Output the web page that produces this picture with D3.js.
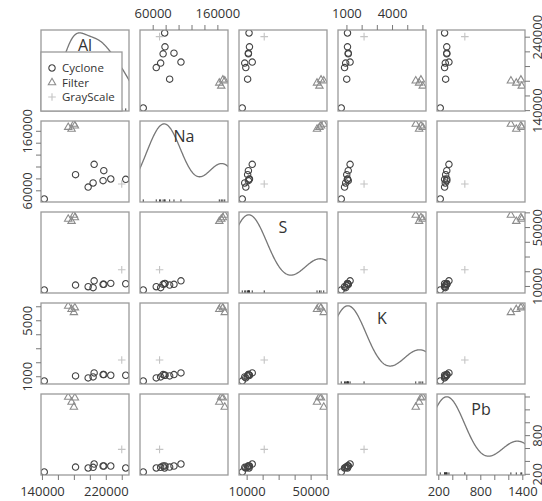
<!DOCTYPE html>
<html>
<head>
  <title>Scatterplot matrix</title>
  <style type="text/css">
    body { margin: 0; background: #fff; }
    svg text { font-family: 'Open Sans', sans-serif; fill: #333; }
    .panel-box { fill: none; stroke: #9a9a9a; stroke-width: 1.3px; }
    .axis line { stroke: #777; }
    .axis text { font-size: 13px; font-family: 'Open Sans', sans-serif; fill: #333; }
    .dens { fill: none; stroke: #777; stroke-width: 1.3px; }
    .rug { stroke: #333; stroke-width: 1px; }
    .diag-label { font-size: 16px; text-anchor: middle; }
    .legend-box { fill: #fff; stroke: #9a9a9a; stroke-width: 1.3px; }
    .legend text { font-size: 11.5px; }
  </style>
</head>
<body>
  <div id="splom"></div>

  <script type="text/javascript" src="https://cdnjs.cloudflare.com/ajax/libs/d3/7.8.5/d3.min.js"></script>
  <script type="text/javascript">
  var varNames = ['Al', 'Na', 'S', 'K', 'Pb'];
  var groupNames = ['Cyclone', 'Filter', 'GrayScale'];

  // one entry per sample
  var sampleGroup = ['Cyclone', 'Cyclone', 'Cyclone', 'Cyclone', 'Cyclone', 'Cyclone', 'Cyclone', 'Cyclone', 'Cyclone',
                     'Filter', 'Filter', 'Filter', 'Filter', 'GrayScale'];
  var al = [142900, 182100, 205400, 217500, 197900, 204100, 216600, 226250, 245000,
            172900, 180000, 177100, 181250, 240000];
  var na = [45400, 86200, 103700, 92900, 65500, 72300, 76100, 79000, 78500,
            166000, 171400, 163000, 168500, 70600];
  var s  = [7260, 10620, 13500, 11090, 9480, 8810, 11090, 11760, 11500,
            55500, 58200, 54000, 56500, 21000];
  var k  = [660, 1020, 1240, 1120, 877, 950, 1120, 1070, 1070,
            6020, 5560, 5780, 5900, 2160];
  var pb = [228, 305, 352, 321, 290, 300, 321, 321, 290,
            1392, 1237, 1314, 1380, 579];

  // tick marks and the ones that carry a label
  var alTicks = [140000, 160000, 180000, 200000, 220000, 240000];
  var naTicks = [60000, 80000, 100000, 120000, 140000, 160000];
  var sTicks  = [10000, 20000, 30000, 40000, 50000, 60000];
  var kTicks  = [1000, 2000, 3000, 4000, 5000, 6000];
  var pbTicks = [200, 400, 600, 800, 1000, 1200, 1400];

  var naTopLabels = [60000, 160000];
  var kTopLabels = [1000, 4000];
  var alBottomLabels = [140000, 220000];
  var sBottomLabels = [10000, 50000];
  var pbBottomLabels = [200, 800, 1400];
  var naLeftLabels = [60000, 160000];
  var kLeftLabels = [1000, 5000];
  var alRightLabels = [140000, 240000];
  var sRightLabels = [10000, 50000];
  var pbRightLabels = [200, 800];

  var cfg = {
    w: 542, h: 501,
    left: 41, top: 30,
    pw: 88, ph: 81,
    gx: 11, gy: 10
  };

  var values = { Al: al, Na: na, S: s, K: k, Pb: pb };
  var ticks = { Al: alTicks, Na: naTicks, S: sTicks, K: kTicks, Pb: pbTicks };

  var colLeft = function(i) { return cfg.left + i * (cfg.pw + cfg.gx) };
  var rowTop = function(i) { return cfg.top + i * (cfg.ph + cfg.gy) };

  var svg = d3.select('#splom').append('svg')
    .attr('width', cfg.w)
    .attr('height', cfg.h);

  // R-like scales: data range stretched by 4% on each side
  var xSc = {}, ySc = {};
  varNames.forEach(function(v, i) {
    var ext = d3.extent(values[v]);
    var pad = (ext[1] - ext[0]) * 0.04;
    xSc[v] = d3.scaleLinear().domain([ext[0] - pad, ext[1] + pad])
      .range([colLeft(i), colLeft(i) + cfg.pw]);
    ySc[v] = d3.scaleLinear().domain([ext[0] - pad, ext[1] + pad])
      .range([rowTop(i) + cfg.ph, rowTop(i)]);
  });

  var groupStyle = {
    Cyclone:   { color: '#444' },
    Filter:    { color: '#8c8c8c' },
    GrayScale: { color: '#c4c4c4' }
  };

  var markerPath = function(g) {
    if (g === 'Cyclone') return d3.symbol(d3.symbolCircle, 32)();
    if (g === 'Filter') return 'M0,-4.2L3.7,2.2L-3.7,2.2Z';
    return 'M-3.8,0H3.8M0,-3.8V3.8';
  };

  var defs = svg.append('defs');

  // kernel density like R's density() with bw.nrd0
  var densityLine = function(x) {
    var sorted = x.slice().sort(d3.ascending);
    var hi = d3.deviation(x);
    var iqr = d3.quantileSorted(sorted, 0.75) - d3.quantileSorted(sorted, 0.25);
    var lo = Math.min(hi, iqr / 1.34);
    var bw = 0.9 * lo * Math.pow(x.length, -0.2);
    var from = sorted[0] - 3 * bw, to = sorted[sorted.length - 1] + 3 * bw;
    var grid = d3.range(512).map(function(i) { return from + (to - from) * i / 511 });
    var dens = grid.map(function(g) {
      return d3.mean(x, function(xi) {
        var u = (g - xi) / bw;
        return Math.exp(-0.5 * u * u) / Math.sqrt(2 * Math.PI) / bw;
      });
    });
    var dExt = d3.extent(dens);
    var xr = sorted[sorted.length - 1] - sorted[0];
    return grid.map(function(g, i) {
      return [g, sorted[0] + dens[i] * xr / (dExt[1] - dExt[0])];
    });
  };

  varNames.forEach(function(rowVar, i) {
    varNames.forEach(function(colVar, j) {
      var id = 'clip-' + i + '-' + j;
      defs.append('clipPath').attr('id', id)
        .append('rect')
        .attr('x', colLeft(j)).attr('y', rowTop(i))
        .attr('width', cfg.pw).attr('height', cfg.ph);

      var panel = svg.append('g').attr('clip-path', 'url(#' + id + ')');

      if (i === j) {
        var line = d3.line()
          .x(function(d) { return xSc[colVar](d[0]) })
          .y(function(d) { return ySc[rowVar](d[1]) });
        panel.append('path')
          .datum(densityLine(values[rowVar]))
          .attr('class', 'dens')
          .attr('d', line);
        panel.selectAll('line.rug')
          .data(values[rowVar])
          .enter()
          .append('line')
          .attr('class', 'rug')
          .attr('x1', function(d) { return xSc[colVar](d) })
          .attr('x2', function(d) { return xSc[colVar](d) })
          .attr('y1', rowTop(i) + cfg.ph)
          .attr('y2', rowTop(i) + cfg.ph - 2.6);
        svg.append('text')
          .attr('class', 'diag-label')
          .attr('x', colLeft(j) + cfg.pw / 2)
          .attr('y', rowTop(i) + 21)
          .text(rowVar);
      } else {
        panel.selectAll('path.pt')
          .data(d3.range(sampleGroup.length))
          .enter()
          .append('path')
          .attr('class', 'pt')
          .attr('d', function(d) { return markerPath(sampleGroup[d]) })
          .attr('transform', function(d) {
            return 'translate(' + xSc[colVar](values[colVar][d]) + ',' + ySc[rowVar](values[rowVar][d]) + ')';
          })
          .style('fill', 'none')
          .style('stroke', function(d) { return groupStyle[sampleGroup[d]].color })
          .style('stroke-width', 1.1);
      }

      svg.append('rect')
        .attr('class', 'panel-box')
        .attr('x', colLeft(j)).attr('y', rowTop(i))
        .attr('width', cfg.pw).attr('height', cfg.ph);
    });
  });

  // axes
  var fmt = function(labels) {
    return function(d) { return labels.indexOf(d) >= 0 ? d : '' };
  };
  var inDomain = function(sc, t) {
    var dm = sc.domain();
    return t.filter(function(v) { return v >= dm[0] && v <= dm[1] });
  };

  var addAxis = function(side, v, labels) {
    var g = svg.append('g').attr('class', 'axis');
    var ax;
    if (side === 'top' || side === 'bottom') {
      ax = (side === 'top' ? d3.axisTop(xSc[v]) : d3.axisBottom(xSc[v]));
      g.attr('transform', 'translate(0,' + (side === 'top' ? rowTop(0) : rowTop(4) + cfg.ph) + ')');
    } else {
      ax = (side === 'left' ? d3.axisLeft(ySc[v]) : d3.axisRight(ySc[v]));
      g.attr('transform', 'translate(' + (side === 'left' ? colLeft(0) : colLeft(4) + cfg.pw) + ',0)');
    }
    ax.tickValues(inDomain(xSc[v], ticks[v]))
      .tickSize(5)
      .tickPadding(7)
      .tickFormat(fmt(labels));
    g.call(ax);
    g.select('.domain').remove();
    if (side === 'left' || side === 'right') {
      g.selectAll('text')
        .attr('x', 0).attr('y', 0).attr('dy', null)
        .attr('text-anchor', 'middle')
        .attr('transform', side === 'left' ? 'translate(-9,0) rotate(-90)' : 'translate(17,0) rotate(-90)');
    }
  };

  addAxis('top', 'Na', naTopLabels);
  addAxis('top', 'K', kTopLabels);
  addAxis('bottom', 'Al', alBottomLabels);
  addAxis('bottom', 'S', sBottomLabels);
  addAxis('bottom', 'Pb', pbBottomLabels);
  addAxis('left', 'Na', naLeftLabels);
  addAxis('left', 'K', kLeftLabels);
  addAxis('right', 'Al', alRightLabels);
  addAxis('right', 'S', sRightLabels);
  addAxis('right', 'Pb', pbRightLabels);

  // legend inside the first diagonal panel
  var legend = svg.append('g').attr('class', 'legend');
  legend.append('rect')
    .attr('class', 'legend-box')
    .attr('x', colLeft(0)).attr('y', rowTop(0) + 22)
    .attr('width', 81).attr('height', cfg.ph - 22);

  var items = legend.selectAll('g.item')
    .data(groupNames)
    .enter()
    .append('g')
    .attr('class', 'item')
    .attr('transform', function(d, i) {
      return 'translate(' + (colLeft(0) + 11) + ',' + (rowTop(0) + 38 + i * 14.5) + ')';
    });
  items.append('path')
    .attr('d', markerPath)
    .style('fill', 'none')
    .style('stroke', function(d) { return groupStyle[d].color })
    .style('stroke-width', 1.1);
  items.append('text')
    .attr('x', 10)
    .attr('y', 4)
    .text(function(d) { return d });
  </script>
</body>
</html>
